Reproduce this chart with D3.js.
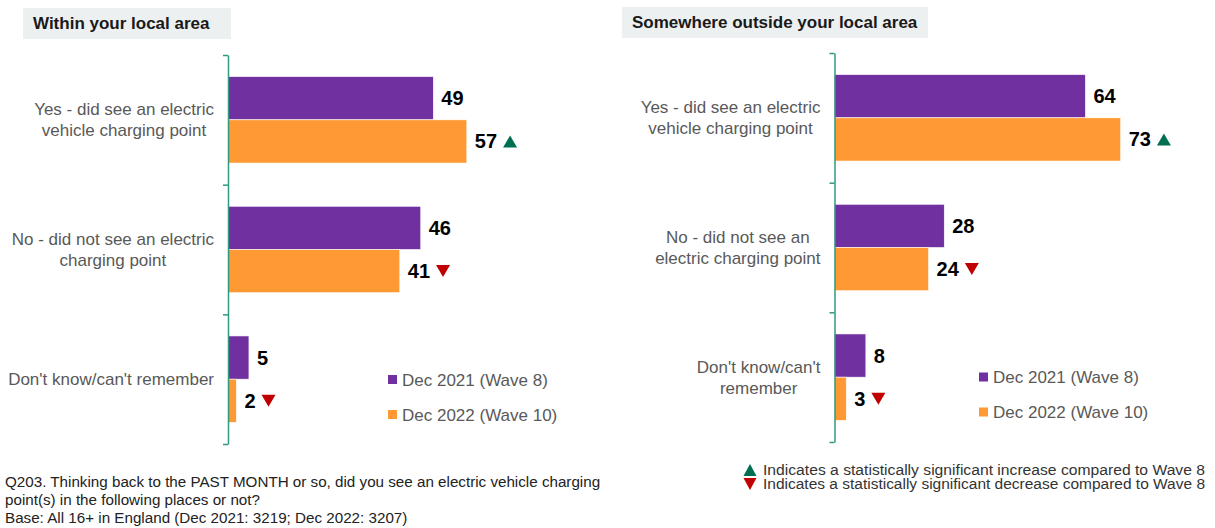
<!DOCTYPE html>
<html>
<head>
<meta charset="utf-8">
<script src="https://cdn.jsdelivr.net/npm/d3@7"></script>
<style>
  html, body { margin: 0; padding: 0; background: #ffffff; }
  svg { display: block; font-family: "Liberation Sans", Arial, Helvetica, sans-serif; }
</style>
</head>
<body>
<svg id="chart" width="1215" height="528"></svg>
<script>
// Category labels (line-wrapped as shown in each panel)
const localLabels = [
  ["Yes - did see an electric", "vehicle charging point"],
  ["No - did not see an electric", "charging point"],
  ["Don't know/can't remember"]
];
const outsideLabels = [
  ["Yes - did see an electric", "vehicle charging point"],
  ["No - did not see an", "electric charging point"],
  ["Don't know/can't", "remember"]
];
const seriesNames = ["Dec 2021 (Wave 8)", "Dec 2022 (Wave 10)"];

// Percentages
const local2021 = [49, 46, 5];
const local2022 = [57, 41, 2];
const outside2021 = [64, 28, 8];
const outside2022 = [73, 24, 3];

// Significance of the Wave 10 change vs Wave 8
const localSig = ["up", "down", "down"];
const outsideSig = ["up", "down", "down"];

const panelTitles = ["Within your local area", "Somewhere outside your local area"];
const sigNotes = [
  "Indicates a statistically significant increase compared to Wave 8",
  "Indicates a statistically significant decrease compared to Wave 8"
];
const footnoteLines = [
  "Q203. Thinking back to the PAST MONTH or so, did you see an electric vehicle charging",
  "point(s) in the following places or not?",
  "Base: All 16+ in England (Dec 2021: 3219; Dec 2022: 3207)"
];

const COLORS = ["#7030a0", "#ff9933"];
const UP = "#006f51", DOWN = "#c00000";
const AXIS = "#2f9a80";
const GREY = "#595959";

const svg = d3.select("#chart");

function drawPanel(cfg) {
  const g = svg.append("g");
  const cats = cfg.labels.map((d, i) => i);

  // Title box
  const tb = g.append("g");
  tb.append("rect")
    .attr("x", cfg.titleBox[0]).attr("y", cfg.titleBox[1])
    .attr("width", cfg.titleBox[2]).attr("height", cfg.titleBox[3])
    .attr("fill", "#edf0f1");
  tb.append("text")
    .attr("x", cfg.titleBox[0] + 10).attr("y", cfg.titleBox[1] + 21)
    .attr("font-size", 17).attr("font-weight", "bold").attr("fill", "#1a1a1a")
    .text(cfg.title);

  const y = d3.scaleBand().domain(cats).range([cfg.top, cfg.bottom]).padding(0);
  const ys = d3.scaleBand().domain([0, 1]).range([0, y.bandwidth()])
    .paddingInner(0).paddingOuter(0.5);
  const x = d3.scaleLinear().domain([0, 100]).range([cfg.axisX, cfg.axisX + cfg.fullWidth]);

  // Bars
  const series = [cfg.v1, cfg.v2];
  series.forEach((vals, s) => {
    g.selectAll(null).data(vals).enter().append("rect")
      .attr("x", x(0))
      .attr("y", (d, i) => y(i) + ys(s))
      .attr("width", d => x(d) - x(0))
      .attr("height", ys.bandwidth())
      .attr("fill", COLORS[s])
      .attr("stroke", "#ffffff").attr("stroke-width", 0.6);

    // Value labels
    const lab = g.selectAll(null).data(vals).enter().append("text")
      .attr("x", d => x(d) + 8)
      .attr("y", (d, i) => y(i) + ys(s) + ys.bandwidth() / 2 + 7)
      .attr("font-size", 20).attr("font-weight", "bold").attr("fill", "#000")
      .text(d => d);

    if (s === 1) {
      lab.each(function(d, i) {
        const sig = cfg.sig[i];
        if (!sig) return;
        const w = this.getComputedTextLength();
        const cx = x(d) + 8 + w + 6 + 7;
        const cy = y(i) + ys(1) + ys.bandwidth() / 2;
        const pts = sig === "up"
          ? [[cx - 7, cy + 6], [cx + 7, cy + 6], [cx, cy - 6]]
          : [[cx - 7, cy - 6], [cx + 7, cy - 6], [cx, cy + 6]];
        g.append("path")
          .attr("d", d3.line()(pts) + "Z")
          .attr("fill", sig === "up" ? UP : DOWN);
      });
    }
  });

  // Axis with ticks at category boundaries
  const yb = d3.scaleLinear().domain([0, cats.length]).range([cfg.top, cfg.bottom]);
  const ax = g.append("g").attr("transform", `translate(${cfg.axisX},0)`)
    .call(d3.axisLeft(yb).tickValues(d3.range(cats.length + 1)).tickSize(5).tickSizeOuter(0).tickFormat(""));
  ax.selectAll("path, line").attr("stroke", AXIS).attr("stroke-width", 1.5);

  // Category labels: block right-aligned beside the axis, lines centred within the block
  cfg.labels.forEach((lines, i) => {
    const t = g.append("text")
      .attr("font-size", 17).attr("fill", GREY).attr("text-anchor", "middle");
    const lh = 21;
    const cy = y(i) + y.bandwidth() / 2;
    const spans = lines.map((ln, k) => t.append("tspan")
      .attr("y", cy + (k - (lines.length - 1) / 2) * lh + 6)
      .text(ln));
    const maxW = d3.max(spans, s => s.node().getComputedTextLength());
    const cx = cfg.axisX - 14 - maxW / 2;
    spans.forEach(s => s.attr("x", cx));
  });

  // Legend
  seriesNames.forEach((name, s) => {
    const ly = cfg.legend[1] + s * 35;
    g.append("rect").attr("x", cfg.legend[0]).attr("y", ly)
      .attr("width", 9).attr("height", 9).attr("fill", COLORS[s]);
    g.append("text").attr("x", cfg.legend[0] + 14).attr("y", ly + 10.5)
      .attr("font-size", 17).attr("fill", GREY).text(name);
  });
}

drawPanel({
  title: panelTitles[0], titleBox: [23, 8, 208, 31],
  labels: localLabels, v1: local2021, v2: local2022, sig: localSig,
  axisX: 228, top: 55, bottom: 444, fullWidth: 419, legend: [388, 375]
});
drawPanel({
  title: panelTitles[1], titleBox: [622, 7, 306, 31],
  labels: outsideLabels, v1: outside2021, v2: outside2022, sig: outsideSig,
  axisX: 834.5, top: 53, bottom: 442, fullWidth: 392, legend: [979, 372.5]
});

// Significance key
const key = svg.append("g");
sigNotes.forEach((note, k) => {
  const cx = 750, cy = 470 + k * 14;
  const pts = k === 0
    ? [[cx - 6.5, cy + 6], [cx + 6.5, cy + 6], [cx, cy - 6]]
    : [[cx - 6.5, cy - 6], [cx + 6.5, cy - 6], [cx, cy + 6]];
  key.append("path").attr("d", d3.line()(pts) + "Z").attr("fill", k === 0 ? UP : DOWN);
  key.append("text").attr("x", 763).attr("y", cy + 5)
    .attr("font-size", 13.8).attr("fill", "#333")
    .attr("textLength", 442).attr("lengthAdjust", "spacingAndGlyphs")
    .text(note);
});

// Question and base
const foot = svg.append("g");
footnoteLines.forEach((ln, k) => {
  foot.append("text").attr("x", 5).attr("y", 487 + k * 18)
    .attr("font-size", 15.2).attr("fill", "#222").text(ln);
});
</script>
</body>
</html>
